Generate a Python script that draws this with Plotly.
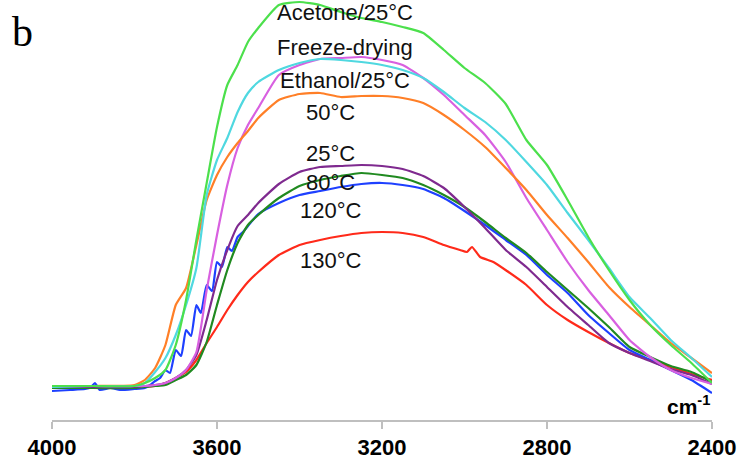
import plotly.graph_objects as go

# Shared wavenumber grid (cm-1)
wavenumber = [4000, 3900, 3800, 3775, 3750, 3725, 3700, 3675, 3650, 3625, 3600, 3575, 3550, 3525,
              3500, 3450, 3400, 3350, 3300, 3250, 3200, 3150, 3100, 3050, 3000, 2950, 2900, 2850,
              2800, 2750, 2700, 2650, 2600, 2550, 2500, 2450, 2400]

acetone_25 = [34, 34, 34, 37, 42, 50, 75, 120, 180, 237, 293, 335, 355, 378, 392, 415, 418, 415, 408,
              402, 398, 393, 387, 370, 352, 337, 316, 280, 255, 220, 183, 150, 120, 95, 75, 57, 37]
ethanol_25 = [33, 34, 34, 37, 48, 62, 85, 115, 152, 225, 260, 282, 308, 327, 338, 350, 357, 361, 360,
              358, 355, 350, 342, 328, 312, 298, 280, 258, 235, 207, 180, 152, 123, 102, 80, 62, 43]
freeze_drying = [34, 34, 34, 34, 35, 37, 42, 50, 68, 130, 185, 235, 272, 295, 312, 345, 355, 361, 362,
                 363, 360, 355, 342, 325, 305, 285, 258, 222, 190, 158, 130, 105, 80, 63, 50, 42, 36]
t50 = [34, 34, 35, 40, 52, 75, 115, 132, 175, 220, 245, 263, 277, 289, 302, 320, 326, 327, 323, 324,
       324, 322, 317, 305, 290, 273, 252, 230, 205, 182, 158, 133, 113, 95, 77, 62, 47]
t25 = [33, 33, 33, 34, 35, 37, 42, 50, 65, 100, 140, 170, 194, 205, 217, 236, 248, 253, 254, 255, 254,
       251, 244, 232, 213, 192, 170, 153, 133, 113, 95, 77, 67, 59, 51, 45, 36]
t80 = [32, 32, 32, 33, 34, 35, 40, 45, 55, 78, 115, 150, 177, 195, 205, 222, 234, 240, 244, 247, 245,
       242, 235, 225, 213, 198, 182, 167, 148, 130, 112, 93, 73, 63, 54, 48, 38]

# 120 C (noisy rise) on its own grid
wavenumber_120 = [4000, 3956, 3920, 3905, 3896, 3884, 3859, 3835, 3800, 3775, 3762, 3750, 3738, 3725,
                  3714, 3700, 3687, 3675, 3663, 3650, 3639, 3625, 3612, 3600, 3588, 3575, 3564, 3550,
                  3537, 3525, 3500, 3450, 3400, 3350, 3300, 3250, 3200, 3150, 3100, 3050, 3000, 2950,
                  2900, 2850, 2800, 2750, 2700, 2650, 2600, 2550, 2500, 2450, 2400]
t120 = [29, 30, 31, 33, 37, 30, 32, 30, 31, 32, 35, 39, 42, 50, 47, 70, 64, 90, 84, 115, 107, 135, 129,
        158, 153, 173, 169, 183, 188, 194, 206, 217, 225, 229, 233, 236, 237, 235, 231, 222, 209, 195,
        180, 165, 145, 127, 105, 87, 70, 60, 50, 40, 27]

# 130 C (with small feature near 2980) on its own grid
wavenumber_130 = [4000, 3900, 3800, 3775, 3750, 3725, 3700, 3675, 3650, 3625, 3600, 3575, 3550, 3525,
                  3500, 3450, 3400, 3350, 3300, 3250, 3200, 3150, 3100, 3050, 3011, 2994, 2982, 2962,
                  2930, 2897, 2850, 2800, 2750, 2700, 2650, 2600, 2550, 2500, 2450, 2400]
t130 = [33, 33, 33, 33, 34, 37, 42, 48, 60, 77, 93, 110, 125, 138, 148, 165, 175, 180, 184, 187, 188,
        187, 183, 175, 170, 168, 173, 163, 158, 149, 135, 115, 100, 88, 77, 67, 60, 53, 46, 40]

tick_vals = [4000, 3600, 3200, 2800, 2400]
tick_text = ["4000", "3600", "3200", "2800", "2400"]

series = [
    ("130°C", wavenumber_130, t130, "#FF2A1A"),
    ("120°C", wavenumber_120, t120, "#1E40FF"),
    ("80°C", wavenumber, t80, "#208A20"),
    ("25°C", wavenumber, t25, "#7F2A8F"),
    ("Freeze-drying", wavenumber, freeze_drying, "#D860E0"),
    ("50°C", wavenumber, t50, "#FF7F27"),
    ("Ethanol/25°C", wavenumber, ethanol_25, "#4FD8E0"),
    ("Acetone/25°C", wavenumber, acetone_25, "#4CE04C"),
]

# label positions (wavenumber, intensity)
labels = [
    ("Acetone/25°C", 3290, 408),
    ("Freeze-drying", 3290, 373),
    ("Ethanol/25°C", 3290, 340),
    ("50°C", 3324, 308),
    ("25°C", 3324, 267),
    ("80°C", 3324, 238),
    ("120°C", 3324, 210),
    ("130°C", 3324, 160),
]

fig = go.Figure()
for name, xs, ys, col in series:
    fig.add_trace(go.Scatter(x=xs, y=ys, mode="lines", name=name,
                             line=dict(color=col, width=2.2, shape="spline", smoothing=0.5),
                             showlegend=False))

font_sans = "Liberation Sans, Arial, sans-serif"
for text, x, y in labels:
    fig.add_annotation(x=x, y=y, xref="x", yref="y", text=text, showarrow=False,
                       xanchor="center", yanchor="middle",
                       font=dict(family=font_sans, size=22, color="#111111"))

fig.add_annotation(x=-0.045, y=(420 - 32) / 420, xref="paper", yref="paper", text="b",
                   showarrow=False, xanchor="center", yanchor="middle",
                   font=dict(family="Liberation Serif, Times New Roman, serif", size=42, color="#000000"))
fig.add_annotation(x=1.0, y=(420 - 405) / 420, xref="paper", yref="paper",
                   text="<b>cm<sup>-1</sup></b>", showarrow=False, xanchor="right", yanchor="middle",
                   font=dict(family=font_sans, size=21, color="#000000"))

fig.update_layout(
    width=741, height=459,
    margin=dict(l=52, r=29, t=0, b=39),
    paper_bgcolor="white", plot_bgcolor="white",
    xaxis=dict(range=[4000, 2400], tickvals=tick_vals, ticktext=tick_text,
               showgrid=False, zeroline=False, showline=True, linecolor="#BFBFBF", linewidth=1.5,
               ticks="outside", ticklen=7, tickcolor="#BFBFBF", tickwidth=1.5,
               tickfont=dict(family=font_sans, size=22, color="#000000", weight="bold")),
    yaxis=dict(range=[0, 420], visible=False, showgrid=False, zeroline=False),
)

fig.write_html("out.html", config={"displayModeBar": False},
               post_script="document.body.style.margin='0';document.body.style.overflow='hidden';")
